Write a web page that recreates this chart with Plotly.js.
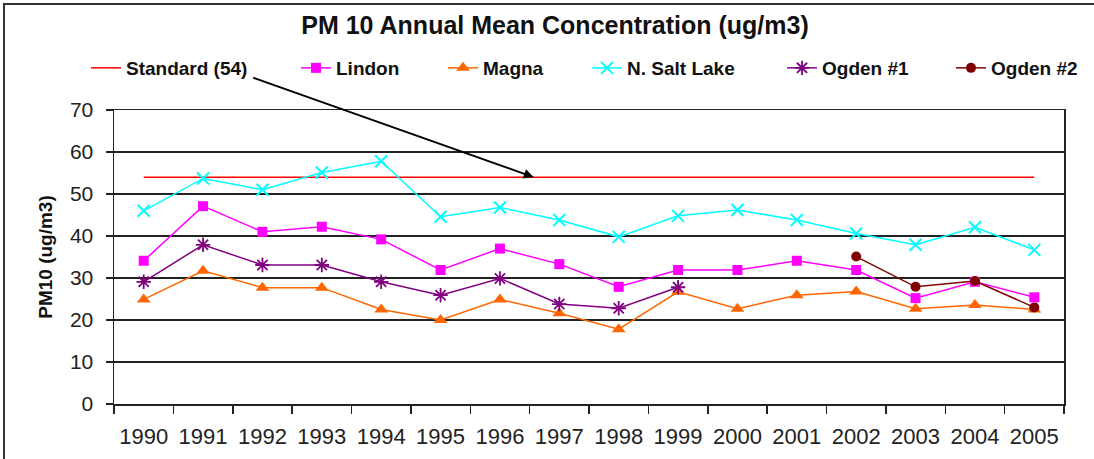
<!DOCTYPE html>
<html>
<head>
<meta charset="utf-8">
<script src="https://cdn.plot.ly/plotly-3.0.1.min.js"></script>
<style>
  html, body { margin: 0; padding: 0; background: #fff; }
  #wrap { position: relative; width: 1094px; height: 459px; overflow: hidden; }
  #chart { position: absolute; left: 0; top: 0; width: 1094px; height: 459px; }
  #frame { position: absolute; left: 3px; top: 3px; width: 1200px; height: 600px;
           border-top: 2px solid #333; border-left: 2px solid #333; pointer-events: none; }
</style>
</head>
<body>
<div id="wrap"><div id="chart"></div><div id="frame"></div></div>
<script>
const years = ['1990','1991','1992','1993','1994','1995','1996','1997','1998','1999','2000','2001','2002','2003','2004','2005'];
const standard = [54,54,54,54,54,54,54,54,54,54,54,54,54,54,54,54];
const lindon = [34.1,47.1,41.0,42.2,39.2,31.9,37.0,33.3,27.9,31.9,31.9,34.1,31.9,25.2,29.1,25.4];
const magna = [24.9,31.7,27.7,27.7,22.5,20.0,24.9,21.6,17.8,26.7,22.7,25.9,26.8,22.7,23.6,22.5];
const nSaltLake = [46.0,53.7,51.0,55.1,57.8,44.6,46.8,43.8,39.8,44.8,46.2,43.8,40.6,37.9,42.1,36.7];
const ogden1Years = ['1990','1991','1992','1993','1994','1995','1996','1997','1998','1999'];
const ogden1 = [29.1,37.9,33.1,33.1,29.1,25.9,29.9,23.8,22.8,27.8];
const ogden2Years = ['2002','2003','2004','2005'];
const ogden2 = [35.1,27.9,29.3,23.0];

const traces = [
  {name:'Standard (54)', x: years, y: standard, mode:'lines', legend:'legend',
   line:{color:'#FF0000', width:1.5}},
  {name:'Lindon', x: years, y: lindon, mode:'lines+markers', legend:'legend2',
   line:{color:'#FF00FF', width:1.5}, marker:{symbol:'square', size:10, color:'#FF00FF'}},
  {name:'Magna', x: years, y: magna, mode:'lines+markers', legend:'legend3',
   line:{color:'#FF6600', width:1.5}, marker:{symbol:'triangle-up', size:12, color:'#FF6600'}},
  {name:'N. Salt Lake', x: years, y: nSaltLake, mode:'lines+markers', legend:'legend4',
   line:{color:'#00FFFF', width:1.5}, marker:{symbol:'x-thin-open', size:12, color:'#00FFFF', line:{color:'#00FFFF', width:2}}},
  {name:'Ogden #1', x: ogden1Years, y: ogden1, mode:'lines+markers', legend:'legend5',
   line:{color:'#800080', width:1.5}, marker:{symbol:'asterisk-open', size:12, color:'#800080', line:{color:'#800080', width:1.8}}},
  {name:'Ogden #2', x: ogden2Years, y: ogden2, mode:'lines+markers', legend:'legend6',
   line:{color:'#800000', width:1.5}, marker:{symbol:'circle', size:10, color:'#800000'}}
];

const plotL = 114, plotR = 1065, plotT = 110, plotB = 404;
const pw = plotR - plotL, ph = plotB - plotT;
function px2x(p) { return (p - plotL) / pw; }
function py2y(p) { return (plotB - p) / ph; }

const legFont = {family:'Liberation Sans, Arial, sans-serif', size:19, color:'#111', weight:'bold'};
const legendTextStarts = [126, 336, 483, 627, 822, 991];
function mkLegend(tx) {
  return {orientation:'h', x: px2x(tx - 40), y: py2y(68), xanchor:'left', yanchor:'middle',
          bgcolor:'rgba(0,0,0,0)', borderwidth:0, font: legFont, itemclick:false};
}

const layout = {
  width: 1094, height: 459,
  margin: {l: plotL, r: 1094 - plotR, t: plotT, b: 459 - plotB, pad: 0},
  paper_bgcolor: '#ffffff', plot_bgcolor: '#ffffff',
  font: {family: 'Liberation Sans, Arial, sans-serif', color: '#111'},
  title: {text: '<b>PM 10 Annual Mean Concentration (ug/m3)</b>', x: 555/1094, xanchor: 'center',
          xref: 'container', y: 1 - 25/459, yanchor: 'middle', yref: 'container',
          font: {size: 25, family: 'Liberation Sans, Arial, sans-serif', color: '#111'}},
  showlegend: true,
  legend: mkLegend(legendTextStarts[0]),
  legend2: mkLegend(legendTextStarts[1]),
  legend3: mkLegend(legendTextStarts[2]),
  legend4: mkLegend(legendTextStarts[3]),
  legend5: mkLegend(legendTextStarts[4]),
  legend6: mkLegend(legendTextStarts[5]),
  xaxis: {type: 'category', categoryorder: 'array', categoryarray: years,
          range: [-0.5, years.length - 0.5],
          tickson: 'boundaries', ticks: 'outside', ticklen: 8, tickwidth: 1.5, tickcolor: '#222',
          showgrid: false, showline: true, linecolor: '#222', linewidth: 1.5, mirror: true,
          ticklabelstandoff: 12,
          tickfont: {size: 22, color: '#222'}, fixedrange: true},
  yaxis: {range: [0, 70], dtick: 10, tick0: 0,
          ticks: 'outside', ticklen: 7, tickwidth: 1.5, tickcolor: '#222',
          showgrid: true, gridcolor: '#222', gridwidth: 1.5,
          showline: true, linecolor: '#222', linewidth: 1.5, mirror: true,
          zeroline: false, ticklabelstandoff: 8,
          tickfont: {size: 21, color: '#222'},
          title: {text: '<b>PM10 (ug/m3)</b>', font: {size: 19, color: '#111'}, standoff: 12},
          fixedrange: true},
  annotations: [{
    x: 6.57, y: 54, xref: 'x', yref: 'y', text: '',
    showarrow: true, arrowhead: 2, arrowsize: 1, arrowwidth: 2, arrowcolor: '#000',
    ax: 253 - 535, ay: 78 - 178, axref: 'pixel', ayref: 'pixel'
  }]
};

Plotly.newPlot('chart', traces, layout, {displayModeBar: false, staticPlot: true});
</script>
</body>
</html>
